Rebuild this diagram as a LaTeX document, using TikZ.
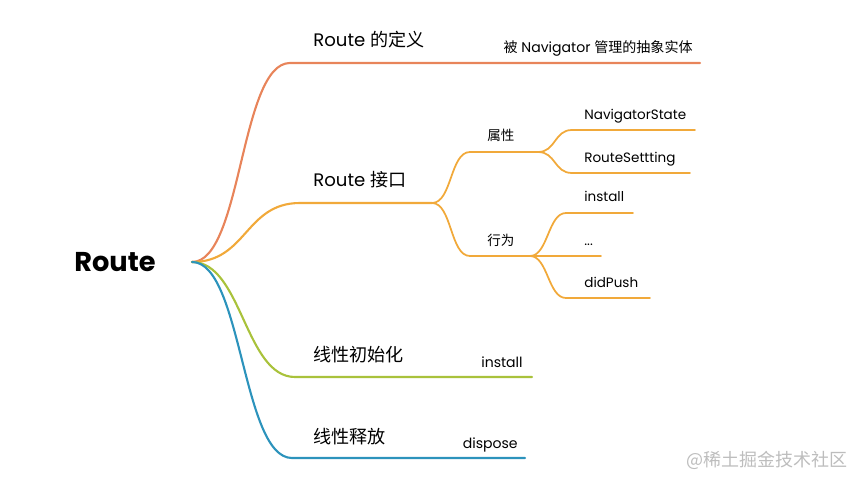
\documentclass[tikz,border=0pt]{standalone}
\usepackage{fontspec}
\setmainfont{Poppins}
\newfontfamily\cjk{Noto Sans CJK SC}
\usetikzlibrary{positioning}

\definecolor{defcolor}{HTML}{E8845A}
\definecolor{apicolor}{HTML}{F1A93A}
\definecolor{initcolor}{HTML}{A9C23B}
\definecolor{freecolor}{HTML}{2C93BC}
\definecolor{markgray}{HTML}{BDBDBD}

\begin{document}
\begin{tikzpicture}[
    x=0.02cm, y=-0.02cm,
    branch/.style={line width=1.2pt, line cap=round},
    twig/.style={line width=1pt, line cap=round},
    root/.style={font=\fontsize{15.5}{18}\selectfont\bfseries},
    topic/.style={anchor=base west, inner sep=0pt, font=\fontsize{10.3}{12}\selectfont},
    leaf/.style={anchor=base west, inner sep=0pt, font=\fontsize{7.7}{9}\selectfont},
    note/.style={anchor=base east, inner sep=0pt, font=\fontsize{8}{9}\selectfont}
]
    \useasboundingbox (0,0) rectangle (865,486);

    % Root
    \node[root] (route) at (115,262) {Route};
    \coordinate (hub) at (192,262);

    % Route 的定义
    \coordinate (defA) at (290,63);
    \coordinate (defB) at (700,63);
    \draw[branch, defcolor] (hub) .. controls +(50,0) and +(-50,0) .. (defA) -- (defB);
    \node[topic] (deftitle) at (313,47) {Route {\cjk 的定义}};
    \node[note] (defnote) at (693,53) {{\cjk 被} Navigator {\cjk 管理的抽象实体}};

    % Route 接口
    \coordinate (apiA) at (300,203);
    \coordinate (apiB) at (432,203);
    \draw[branch, apicolor] (hub) .. controls +(55,0) and +(-55,0) .. (apiA) -- (apiB);
    \node[topic] (apititle) at (313,187) {Route {\cjk 接口}};

    % 属性
    \coordinate (propA) at (470,152);
    \coordinate (propB) at (538,152);
    \draw[twig, apicolor] (apiB) .. controls +(20,0) and +(-20,0) .. (propA) -- (propB);
    \node[leaf] (prop) at (487,141) {\cjk 属性};

    \coordinate (stateA) at (572,130);
    \coordinate (stateB) at (695,130);
    \draw[twig, apicolor] (propB) .. controls +(18,0) and +(-18,0) .. (stateA) -- (stateB);
    \node[leaf] (state) at (584,120) {NavigatorState};

    \coordinate (settA) at (572,173);
    \coordinate (settB) at (690,173);
    \draw[twig, apicolor] (propB) .. controls +(18,0) and +(-18,0) .. (settA) -- (settB);
    \node[leaf] (sett) at (584,163) {RouteSettting};

    % 行为
    \coordinate (actA) at (470,256);
    \coordinate (actB) at (530,256);
    \draw[twig, apicolor] (apiB) .. controls +(20,0) and +(-20,0) .. (actA) -- (actB);
    \node[leaf] (act) at (487,245) {\cjk 行为};

    \coordinate (instA) at (566,213);
    \coordinate (instB) at (633,213);
    \draw[twig, apicolor] (actB) .. controls +(18,0) and +(-18,0) .. (instA) -- (instB);
    \node[leaf] (inst) at (584,202) {install};

    \coordinate (dotsB) at (601,256);
    \draw[twig, apicolor] (actB) -- (dotsB);
    \node[leaf] (dots) at (584,245) {...};

    \coordinate (pushA) at (566,298);
    \coordinate (pushB) at (650,298);
    \draw[twig, apicolor] (actB) .. controls +(18,0) and +(-18,0) .. (pushA) -- (pushB);
    \node[leaf] (push) at (584,287) {didPush};

    % 线性初始化
    \coordinate (initA) at (295,377);
    \coordinate (initB) at (532,377);
    \draw[branch, initcolor] (hub) .. controls +(50,0) and +(-50,0) .. (initA) -- (initB);
    \node[topic] (inittitle) at (313,361) {\cjk 线性初始化};
    \node[note] (initnote) at (523,367) {install};

    % 线性释放
    \coordinate (freeA) at (292,458);
    \coordinate (freeB) at (525,458);
    \draw[branch, freecolor] (hub) .. controls +(50,0) and +(-50,0) .. (freeA) -- (freeB);
    \node[topic] (freetitle) at (313,443) {\cjk 线性释放};
    \node[note] (freenote) at (518,448) {dispose};

    % watermark
    \node[anchor=base east, inner sep=0pt, text=markgray, font=\fontsize{10.25}{12}\selectfont\cjk] (mark) at (848,466) {@稀土掘金技术社区};

\end{tikzpicture}
\end{document}
